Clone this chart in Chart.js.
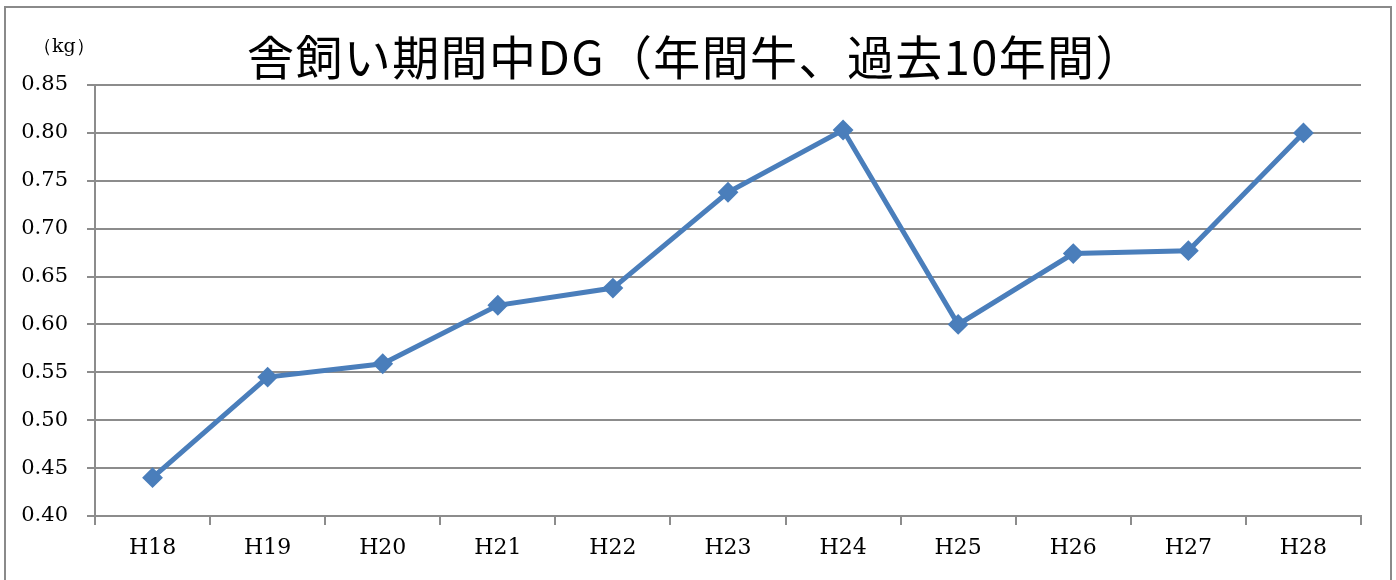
<!DOCTYPE html>
<html>
<head>
<meta charset="utf-8">
<script src="https://cdn.jsdelivr.net/npm/chart.js@4"></script>
<style>
  html, body { margin: 0; padding: 0; background: #fff; }
  #wrap { position: absolute; left: 0; top: 0; width: 1396px; height: 580px; }
  #frame { position: absolute; left: 4px; top: 6px; width: 1388px; height: 600px; border: 2px solid #8a8a8a; box-sizing: border-box; pointer-events: none; }
  #title { position: absolute; left: 247px; top: 22px; font-family: "Noto Sans CJK JP", "Noto Sans CJK SC", serif; font-size: 47px; line-height: 66px; letter-spacing: 1.4px; color: #000; white-space: nowrap; }
  #unit { position: absolute; left: 33px; top: 33px; font-family: "DejaVu Serif", "Liberation Serif", serif; font-size: 19px; color: #000; }
  canvas { position: absolute; left: 0; top: 0; }
</style>
</head>
<body>
<div id="wrap">
  <canvas id="c" width="1396" height="580"></canvas>
  <div id="frame"></div>
  <div id="unit">（kg）</div>
  <div id="title">舎飼い期間中DG（年間牛、過去10年間）</div>
</div>
<script>
const categories = ["H18","H19","H20","H21","H22","H23","H24","H25","H26","H27","H28"];
const dgValues = [0.44, 0.545, 0.559, 0.62, 0.638, 0.738, 0.803, 0.60, 0.674, 0.677, 0.80];
const yTicks = { min: 0.40, max: 0.85, step: 0.05 };

const gridColor = '#8c8c8c';
const lineColor = '#4a7ebb';
const yFont = { family: '"DejaVu Serif", "Liberation Serif", serif', size: 21 };
const xFont = { family: '"DejaVu Serif", "Liberation Serif", serif', size: 22 };

new Chart(document.getElementById('c'), {
  type: 'line',
  data: {
    labels: categories,
    datasets: [{
      data: dgValues,
      borderColor: lineColor,
      backgroundColor: lineColor,
      borderWidth: 5,
      pointStyle: 'rectRot',
      pointRadius: 9,
      pointBorderWidth: 2,
      pointBorderColor: lineColor,
      pointBackgroundColor: lineColor,
      tension: 0,
      fill: false
    }]
  },
  options: {
    responsive: false,
    animation: false,
    devicePixelRatio: 1,
    layout: { padding: { left: 0, right: 35, top: 85, bottom: 0 } },
    plugins: { legend: { display: false }, title: { display: false }, tooltip: { enabled: false } },
    scales: {
      x: {
        offset: true,
        grid: { display: true, drawOnChartArea: false, drawTicks: true, tickLength: 9, color: gridColor, lineWidth: 2, offset: true },
        border: { display: true, color: gridColor, width: 2 },
        ticks: { color: '#000', font: xFont, padding: 10, maxRotation: 0 },
        afterFit: s => { s.height = 64; }
      },
      y: {
        min: yTicks.min,
        max: yTicks.max,
        grid: { color: gridColor, lineWidth: 2, tickLength: 8, drawTicks: true },
        border: { display: true, color: gridColor, width: 2 },
        ticks: {
          stepSize: yTicks.step,
          color: '#000',
          font: yFont,
          padding: 19,
          callback: v => Number(v).toFixed(2)
        },
        afterFit: s => { s.width = 95; }
      }
    }
  }
});
</script>
</body>
</html>
